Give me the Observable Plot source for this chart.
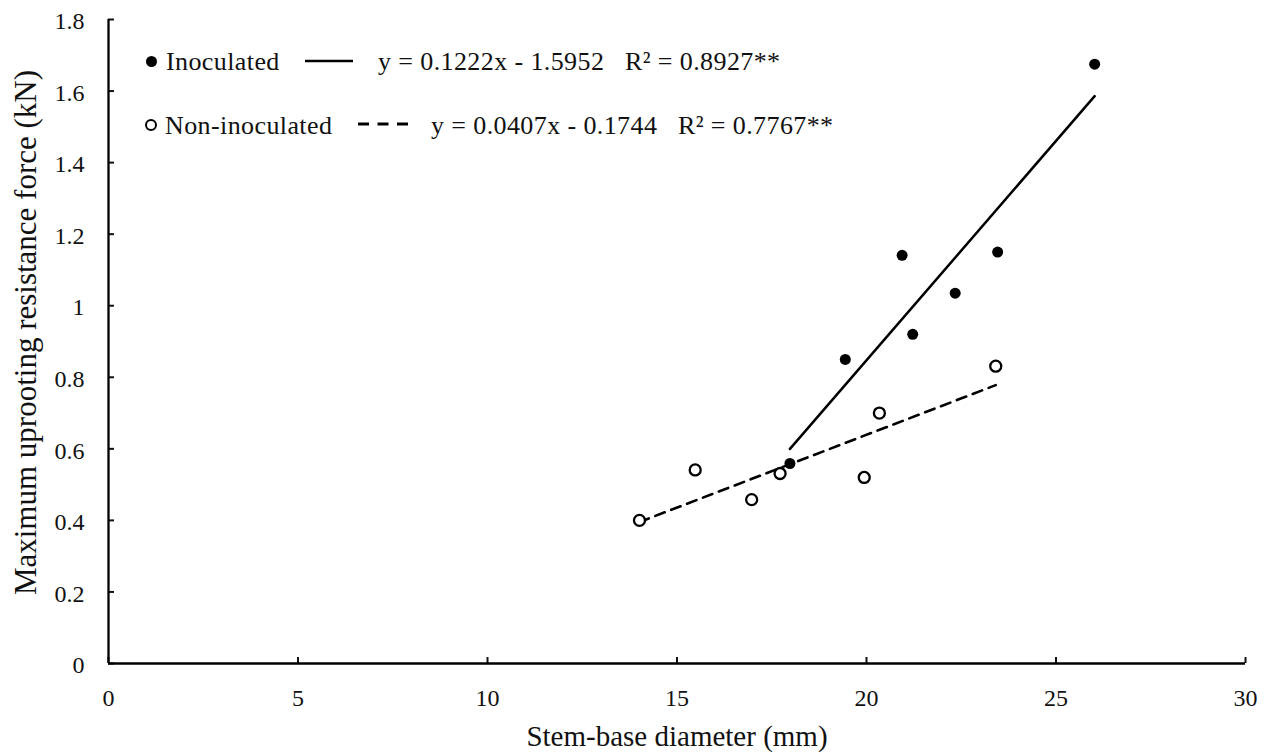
<!DOCTYPE html>
<html>
<head>
<meta charset="utf-8">
<script src="https://cdn.jsdelivr.net/npm/d3@7"></script>
<script src="https://cdn.jsdelivr.net/npm/@observablehq/plot@0.6"></script>
<style>
  html, body { margin: 0; padding: 0; background: #fff; }
  #wrap { position: relative; width: 1272px; height: 754px; font-family: "Liberation Serif", "Times New Roman", serif; color: #111; }
  .lg { position: absolute; font-size: 26px; letter-spacing: 0.4px; white-space: pre; line-height: 1; }
  .dot { position: absolute; border-radius: 50%; box-sizing: border-box; }
  .ln { position: absolute; overflow: visible; }
</style>
</head>
<body>
<div id="wrap"></div>
<script>
// Data
const inocX = [17.98, 19.44, 20.94, 21.22, 22.34, 23.46, 26.02];
const inocY = [0.559, 0.850, 1.141, 0.920, 1.035, 1.150, 1.675];
const nonX  = [14.01, 15.48, 16.97, 17.72, 19.94, 20.34, 23.41];
const nonY  = [0.400, 0.541, 0.458, 0.531, 0.520, 0.700, 0.831];
const xTicks = [0, 5, 10, 15, 20, 25, 30];
const yTicks = [0, 0.2, 0.4, 0.6, 0.8, 1.0, 1.2, 1.4, 1.6, 1.8];
const seriesNames = ["Inoculated", "Non-inoculated"];
const equations = ["y = 0.1222x - 1.5952   R\u00b2 = 0.8927**", "y = 0.0407x - 0.1744   R\u00b2 = 0.7767**"];
const xLabel = "Stem-base diameter (mm)";
const yLabel = "Maximum uprooting resistance force (kN)";

const inoc = inocX.map((x, i) => ({x, y: inocY[i]}));
const non = nonX.map((x, i) => ({x, y: nonY[i]}));
const fmt = d => String(+d.toFixed(1));

const chart = Plot.plot({
  width: 1272,
  height: 754,
  marginLeft: 108,
  marginRight: 27,
  marginTop: 19,
  marginBottom: 91,
  style: {fontFamily: "Liberation Serif, Times New Roman, serif", color: "#111", background: "white", fontSize: "24px"},
  x: {domain: [0, 30]},
  y: {domain: [0, 1.8]},
  marks: [
    // inward tick marks
    Plot.axisX({ticks: xTicks, tickSize: 6, dy: -6, strokeWidth: 2, tickFormat: () => "", label: null}),
    Plot.axisY({ticks: yTicks, tickSize: 6, dx: 6, strokeWidth: 2, tickFormat: () => "", label: null}),
    // tick labels
    Plot.axisX({ticks: xTicks, tickSize: 0, tickPadding: 25, tickFormat: fmt, fontSize: 24, label: null}),
    Plot.axisY({ticks: yTicks, tickSize: 0, tickPadding: 24, dy: 2, tickFormat: fmt, fontSize: 24, label: null}),
    // axis titles
    Plot.text([xLabel], {frameAnchor: "bottom", dy: 73, fontSize: 29, lineAnchor: "middle", textAnchor: "middle"}),
    Plot.text([yLabel], {frameAnchor: "left", rotate: -90, dx: -82, dy: -9, fontSize: 31, lineAnchor: "middle", textAnchor: "middle"}),
    // axis lines
    Plot.ruleX([0], {strokeWidth: 2.3, stroke: "black"}),
    Plot.ruleY([0], {strokeWidth: 2.3, stroke: "black"}),
    // trend lines
    Plot.linearRegressionY(inoc, {x: "x", y: "y", ci: 0, stroke: "black", strokeWidth: 2.5}),
    Plot.linearRegressionY(non, {x: "x", y: "y", ci: 0, stroke: "black", strokeWidth: 2.6, strokeDasharray: "10,7"}),
    // points
    Plot.dot(inoc, {x: "x", y: "y", r: 5.5, fill: "black", stroke: "none"}),
    Plot.dot(non, {x: "x", y: "y", r: 5.5, fill: "white", stroke: "black", strokeWidth: 2.3})
  ]
});

const wrap = document.getElementById("wrap");
wrap.appendChild(chart);

// Legend (HTML overlay inside the plot area)
function add(html) { wrap.insertAdjacentHTML("beforeend", html); }
// row 1
add(`<div class="dot" style="left:146px;top:56px;width:11px;height:11px;background:#000"></div>`);
add(`<div class="lg" style="left:166px;top:49px">${seriesNames[0]}</div>`);
add(`<svg class="ln" style="left:305px;top:56px" width="50" height="10"><line x1="0" x2="48" y1="5" y2="5" stroke="#000" stroke-width="2.6"/></svg>`);
add(`<div class="lg" style="left:378px;top:49px">${equations[0]}</div>`);
// row 2
add(`<div class="dot" style="left:145px;top:119px;width:12px;height:12px;border:2.3px solid #000;background:#fff"></div>`);
add(`<div class="lg" style="left:165px;top:113px">${seriesNames[1]}</div>`);
add(`<svg class="ln" style="left:358px;top:119px" width="52" height="10"><line x1="0" x2="50" y1="5" y2="5" stroke="#000" stroke-width="3" stroke-dasharray="11,8.5"/></svg>`);
add(`<div class="lg" style="left:431px;top:113px">${equations[1]}</div>`);
</script>
</body>
</html>
